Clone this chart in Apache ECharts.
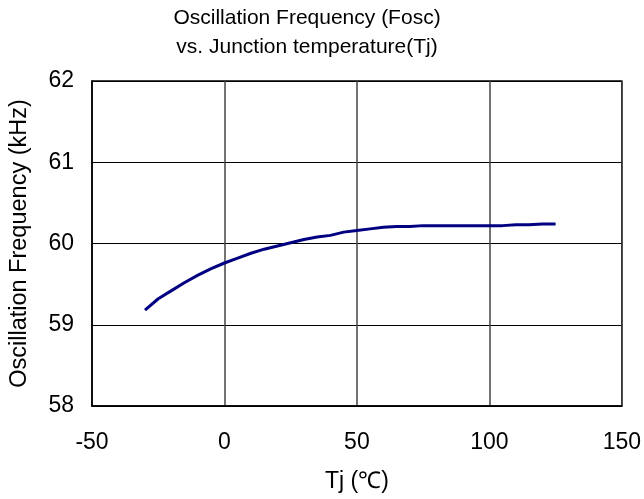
<!DOCTYPE html>
<html>
<head>
<meta charset="utf-8">
<script src="https://cdn.jsdelivr.net/npm/echarts@6/dist/echarts.min.js"></script>
<style>html,body{margin:0;padding:0;background:#fff}#c{width:644px;height:499px}</style>
</head>
<body>
<div id="c"></div>
<script>
const temps = [-30,-25,-20,-15,-10,-5,0,5,10,15,20,25,30,35,40,45,50,55,60,65,70,75,80,85,90,95,100,105,110,115,120,125];
const freq = [59.18,59.32,59.42,59.52,59.61,59.69,59.76,59.82,59.88,59.93,59.97,60.01,60.05,60.08,60.10,60.14,60.16,60.18,60.20,60.21,60.21,60.22,60.22,60.22,60.22,60.22,60.22,60.22,60.23,60.23,60.24,60.24];
const titleText = 'Oscillation Frequency (Fosc)\nvs. Junction temperature(Tj)';
const xName = 'Tj (℃)';
const yName = 'Oscillation Frequency (kHz)';

const font = 'Liberation Sans, Arial, sans-serif';
const chart = echarts.init(document.getElementById('c'));
chart.setOption({
  animation: false,
  backgroundColor: '#fff',
  title: {
    text: titleText,
    left: 307, top: 4, textAlign: 'center', padding: 0,
    textStyle: { fontFamily: font, fontSize: 21, fontWeight: 'normal', color: '#000', lineHeight: 29 }
  },
  grid: { left: 91, right: 21, top: 81, bottom: 93, show: true, borderColor: '#000', borderWidth: 1.5 },
  xAxis: {
    type: 'value', min: -50, max: 150, interval: 50,
    name: xName, nameLocation: 'middle', nameGap: 64,
    nameTextStyle: { fontFamily: font, fontSize: 23, color: '#000' },
    axisLine: { show: true, lineStyle: { color: '#000', width: 1.5 } },
    axisTick: { show: false },
    axisLabel: { fontFamily: font, fontSize: 23, color: '#000', margin: 25 },
    splitLine: { show: true, lineStyle: { color: '#444', width: 1.5 } }
  },
  yAxis: {
    type: 'value', min: 58, max: 62, interval: 1,
    name: yName, nameLocation: 'middle', nameGap: 60, nameRotate: 90,
    nameTextStyle: { fontFamily: font, fontSize: 23.5, color: '#000' },
    axisLine: { show: true, onZero: false, lineStyle: { color: '#000', width: 1.5 } },
    axisTick: { show: false },
    axisLabel: { fontFamily: font, fontSize: 23, color: '#000', margin: 18 },
    splitLine: { show: true, lineStyle: { color: '#000', width: 1 } }
  },
  series: [{
    type: 'line',
    data: temps.map((t, i) => [t, freq[i]]),
    showSymbol: false,
    lineStyle: { color: '#000080', width: 3 },
    itemStyle: { color: '#000080' }
  }]
});
</script>
</body>
</html>
